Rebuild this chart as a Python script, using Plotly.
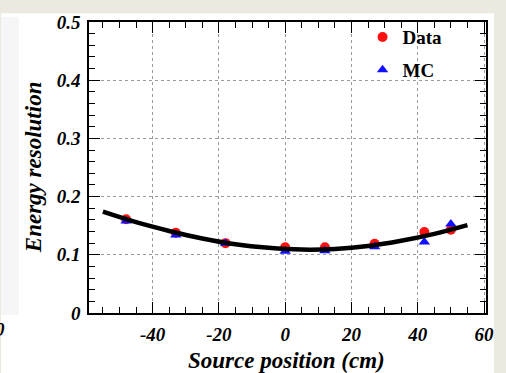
import plotly.graph_objects as go

# Data
positions = [-48, -33, -18, 0, 12, 27, 42, 50]
data_res = [0.161, 0.138, 0.120, 0.113, 0.113, 0.119, 0.139, 0.143]
mc_res = [0.158, 0.134, 0.120, 0.106, 0.107, 0.114, 0.122, 0.153]

fit_x = [-55, -45, -35, -25, -15, -5, 5, 15, 25, 35, 45, 55]
fit_y = [0.174, 0.156, 0.141, 0.128, 0.118, 0.112, 0.109, 0.110, 0.115, 0.124, 0.136, 0.151]

x_ticks = [-40, -20, 0, 20, 40, 60]
y_ticks = [0, 0.1, 0.2, 0.3, 0.4, 0.5]

W, H = 506, 373
L, R, T, B = 89, 491, 15, 313
pw, ph = R - L, B - T

def px(x):
    return (x - L) / pw

def py(y):
    return (B - y) / ph

serif = "Liberation Serif"

fig = go.Figure()
fig.add_trace(go.Scatter(
    x=positions, y=data_res, mode="markers", name="Data", legendgroup="d",
    marker=dict(symbol="circle", size=10, color="#ff1010", line=dict(width=0)),
))
fig.add_trace(go.Scatter(
    x=positions, y=mc_res, mode="markers", name="MC", legendgroup="m",
    marker=dict(symbol="triangle-up", size=10, color="#1010ff", line=dict(width=0)),
))
fig.add_trace(go.Scatter(
    x=fit_x, y=fit_y, mode="lines", line=dict(color="black", width=4.5, shape="spline"),
    showlegend=False, hoverinfo="skip",
))

axis_common = dict(
    showline=True, linecolor="black", linewidth=1.5, mirror="ticks",
    ticks="inside", ticklen=11, tickwidth=1.2, tickcolor="black",
    showgrid=True, gridcolor="#9a9a9a", griddash="dot", gridwidth=1,
    zeroline=False,
    tickfont=dict(family=serif, size=19, color="black", weight="bold", style="italic"),
)

fig.update_layout(
    width=W, height=H,
    margin=dict(l=L, r=W - R, t=T, b=H - B),
    paper_bgcolor="#ece9e0",
    plot_bgcolor="white",
    showlegend=True,
    legend=dict(
        x=px(366), y=py(11), xanchor="left", yanchor="top",
        bgcolor="rgba(0,0,0,0)",
        font=dict(family=serif, size=19, color="black", weight="bold"),
        itemwidth=30, tracegroupgap=5,
    ),
    xaxis=dict(
        range=[-59.2, 60.6], tickvals=x_ticks, ticktext=[str(v) for v in x_ticks],
        minor=dict(dtick=5, tick0=0, ticks="inside", ticklen=6, tickcolor="black", showgrid=False),
        ticklabelstandoff=3,
        **axis_common,
    ),
    yaxis=dict(
        range=[0, 0.5], tickvals=y_ticks, ticktext=["0", "0.1", "0.2", "0.3", "0.4", "0.5"],
        minor=dict(dtick=0.02, tick0=0, ticks="inside", ticklen=6, tickcolor="black", showgrid=False),
        ticklabelstandoff=3,
        **axis_common,
    ),
    shapes=[
        dict(type="rect", xref="paper", yref="paper", x0=px(0), x1=px(499), y0=py(H + 5), y1=py(6),
             fillcolor="white", line=dict(width=0), layer="below"),
        dict(type="rect", xref="paper", yref="paper", x0=px(0), x1=px(18), y0=py(315), y1=py(10),
             fillcolor="#f6f6f6", line=dict(width=0), layer="below"),
    ],
    annotations=[
        dict(text="Source position (cm)", xref="paper", yref="paper", x=px(289), y=py(362),
             xanchor="center", yanchor="middle", showarrow=False,
             font=dict(family=serif, size=23, color="black", weight="bold", style="italic")),
        dict(text="Energy resolution", xref="paper", yref="paper", x=px(33), y=py(164),
             xanchor="center", yanchor="middle", showarrow=False, textangle=-90,
             font=dict(family=serif, size=23, color="black", weight="bold", style="italic")),
        dict(text="0", xref="paper", yref="paper", x=px(6), y=py(330),
             xanchor="right", yanchor="middle", showarrow=False,
             font=dict(family=serif, size=19, color="black", weight="bold", style="italic")),
    ],
)

fig.write_html("out.html")
